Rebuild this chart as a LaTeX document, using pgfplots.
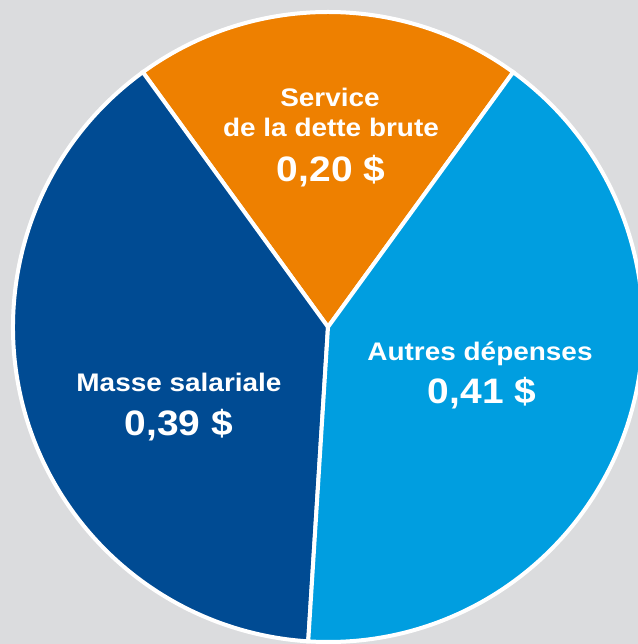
\documentclass[border=0pt]{standalone}
\usepackage{pgfplots}
\pgfplotsset{compat=1.18}
\usepackage{fontspec}
\setmainfont{Liberation Sans}[FakeStretch=1.1]
\definecolor{bgc}{HTML}{DBDCDE}
\definecolor{orangec}{HTML}{EE8000}
\definecolor{darkc}{HTML}{004B93}
\definecolor{lightc}{HTML}{009EE0}
% shares of the dollar
\pgfmathsetmacro\vDette{0.20}
\pgfmathsetmacro\vMasse{0.39}
\pgfmathsetmacro\vAutres{0.41}
\pgfmathsetmacro\aA{54}
\pgfmathsetmacro\aB{\aA+\vDette*360}
\pgfmathsetmacro\aC{\aB+\vMasse*360}
\pgfmathsetmacro\aD{\aC+\vAutres*360}
\begin{document}
\begin{tikzpicture}
\begin{axis}[name=ax, x=1bp, y=1bp, xmin=0, xmax=638, ymin=0, ymax=644,
  hide axis, clip=true, scale only axis]
\fill[bgc] (axis cs:0,0) rectangle (axis cs:638,644);
\filldraw[fill=orangec, draw=white, line width=4bp, line join=miter] (axis cs:328,317) -- ++(\aA:315bp) arc[start angle=\aA, end angle=\aB, radius=315bp] -- cycle;
\filldraw[fill=darkc, draw=white, line width=4bp, line join=miter] (axis cs:328,317) -- ++(\aB:315bp) arc[start angle=\aB, end angle=\aC, radius=315bp] -- cycle;
\filldraw[fill=lightc, draw=white, line width=4bp, line join=miter] (axis cs:328,317) -- ++(\aC:315bp) arc[start angle=\aC, end angle=\aD, radius=315bp] -- cycle;
\tikzset{lab/.style={anchor=base, text=white, inner sep=0pt, font=\bfseries\fontsize{25.5}{30}\selectfont},
         val/.style={anchor=base, text=white, inner sep=0pt, font=\bfseries\fontsize{35.5}{40}\selectfont}}
\node[lab] at (axis cs:330,537) {Service};
\node[lab] at (axis cs:331,507) {de la dette brute};
\node[val] at (axis cs:331,462) {0,20 \$};
\node[lab] at (axis cs:480,283) {Autres dépenses};
\node[val] at (axis cs:482,240) {0,41 \$};
\node[lab] at (axis cs:179,252) {Masse salariale};
\node[val] at (axis cs:179,208) {0,39 \$};
\end{axis}
\pgfresetboundingbox
\path (ax.south west) rectangle (ax.north east);
\end{tikzpicture}
\end{document}
